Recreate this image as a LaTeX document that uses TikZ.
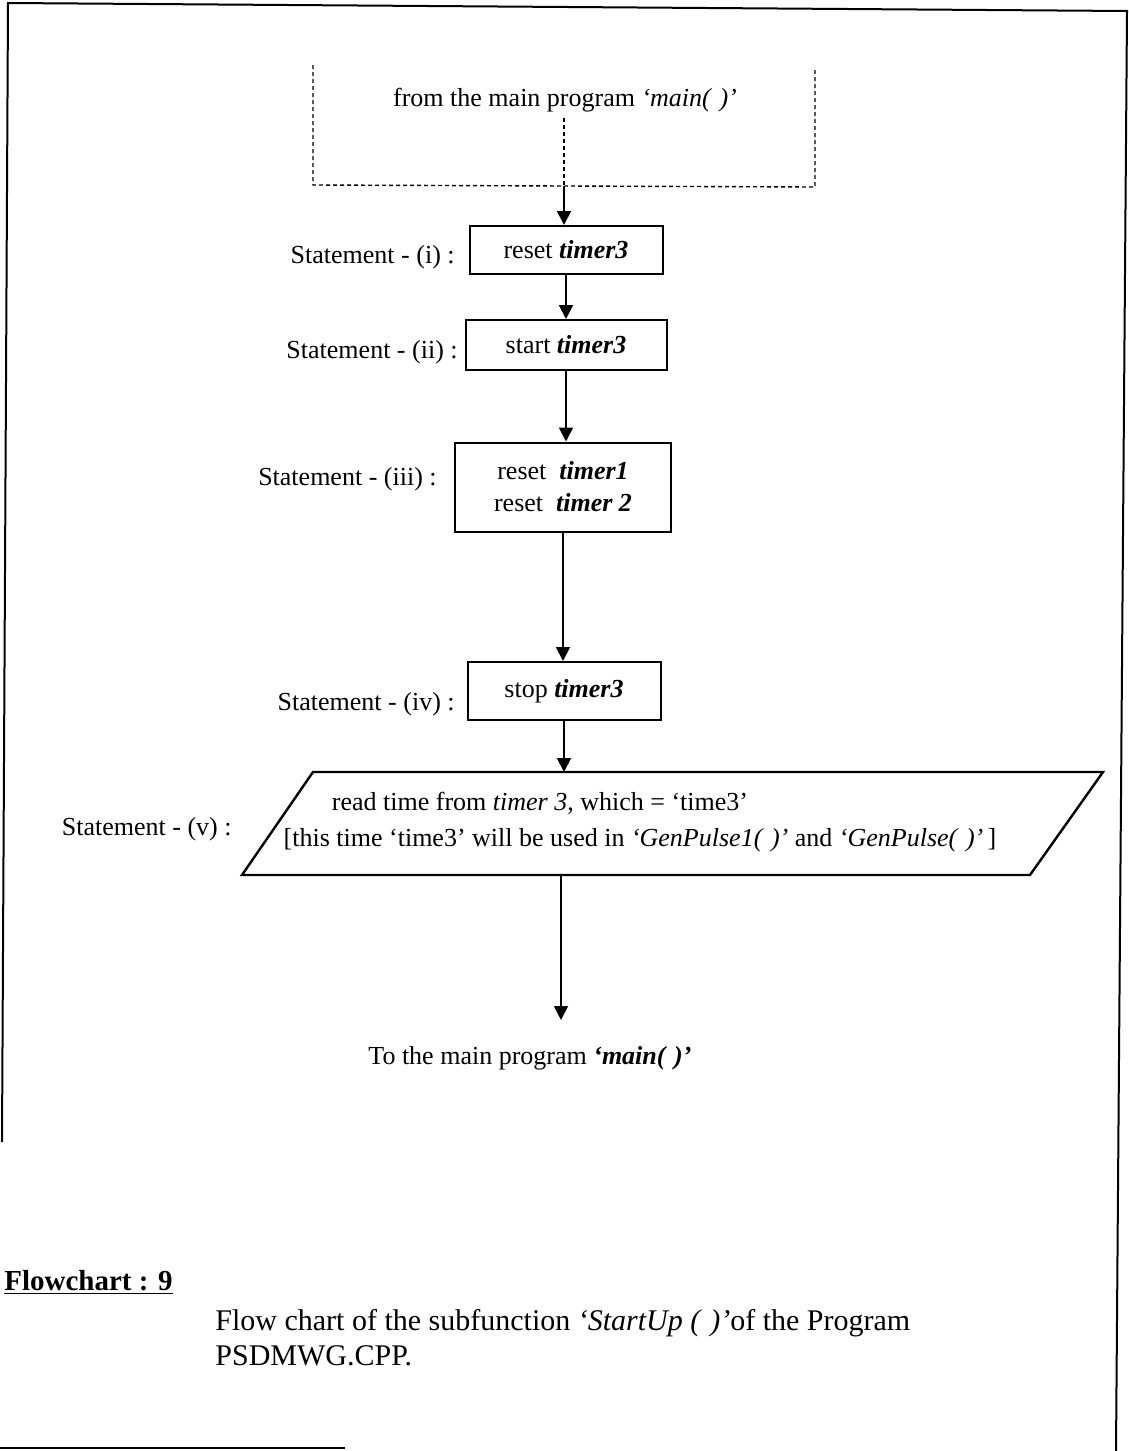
\documentclass[tikz,border=0pt]{standalone}
\usepackage{fontspec}
\setmainfont{Liberation Serif}
\usetikzlibrary{arrows.meta}

\tikzset{
  stmt/.style={draw, line width=1pt, align=center, inner sep=0pt},
  lbl/.style={anchor=east, inner sep=0pt},
  flow/.style={line width=0.9pt, -{Triangle[length=7pt,width=7pt]}},
  dotline/.style={line width=0.7pt, dash pattern=on 2pt off 1.5pt},
}

\begin{document}
\begin{tikzpicture}[x=0.5pt, y=-0.5pt, font=\fontsize{13}{16}\selectfont]
    \useasboundingbox (0,0) rectangle (1129,1451);
    % page frame
    \draw[line width=1pt] (2,1142) -- (8,3) -- (1127,11) -- (1116,1451);
    \draw[line width=1pt] (0,1448) -- (345,1448);

    % entry from main()
    \draw[dotline] (313,65) -- (313,185) -- (815,187) -- (815,70);
    \node (from) at (565,100) {from the main program \textit{`main(\,\,)'}};
    \coordinate (entry) at (564,186);
    \draw[dotline] (564,118) -- (entry);

    % statements
    \node[stmt, minimum width=96.5pt, minimum height=24pt] (s1) at (566,250)
        {reset \textbf{\textit{timer3}}};
    \node[stmt, minimum width=100.5pt, minimum height=25pt] (s2) at (566,345)
        {start \textbf{\textit{timer3}}};
    \node[stmt, minimum width=108pt, minimum height=44.5pt] (s3) at (563,487)
        {reset~~\textbf{\textit{timer1}}\\reset~~\textbf{\textit{timer 2}}};
    \node[stmt, minimum width=96.5pt, minimum height=29pt] (s4) at (564,691)
        {stop \textbf{\textit{timer3}}};

    \node[lbl] (l1) at (455,257) {Statement - (i) :};
    \node[lbl] (l2) at (458,352) {Statement - (ii) :};
    \node[lbl] (l3) at (437,479) {Statement - (iii) :};
    \node[lbl] (l4) at (455,704) {Statement - (iv) :};
    \node[lbl] (l5) at (232,829) {Statement - (v) :};

    % read time3
    \draw[line width=1.2pt] (313,772) -- (1103,772) -- (1030,875) -- (242,875) -- cycle;
    \coordinate (rdtop) at (563,772);
    \coordinate (rdbot) at (561,875);
    \node (rd1) at (540,803) {read time from \textit{timer 3}, which = `time3'};
    \node (rd2) at (640,840) {[this time `time3' will be used in
        \textit{`GenPulse1(\,\,)'} and \textit{`GenPulse(\,\,)'}\,]};

    % exit to main()
    \node (tomain) at (530,1058) {To the main program \textbf{\textit{`main(\,\,)'}}};
    \coordinate (exit) at (561,1020);

    \draw[flow] (entry) -- (entry |- s1.north);
    \draw[flow] (s1.south) -- (s1.south |- s2.north);
    \draw[flow] (s2.south) -- (s2.south |- s3.north);
    \draw[flow] (s3.south) -- (s3.south |- s4.north);
    \draw[flow] (s4.south) -- (s4.south |- rdtop);
    \draw[flow] (rdbot) -- (exit);

    % caption
    \node[anchor=base west, inner sep=0pt, font=\fontsize{14.5}{17}\selectfont\bfseries] (fc) at (4,1290)
        {\underline{Flowchart : 9}};
    \node[anchor=north west, align=left, inner sep=0pt, font=\fontsize{15}{17.5}\selectfont] (cap) at (215,1309)
        {Flow chart of the subfunction \textit{`StartUp (\,\,)'}of the Program\\PSDMWG.CPP.};
\end{tikzpicture}
\end{document}
